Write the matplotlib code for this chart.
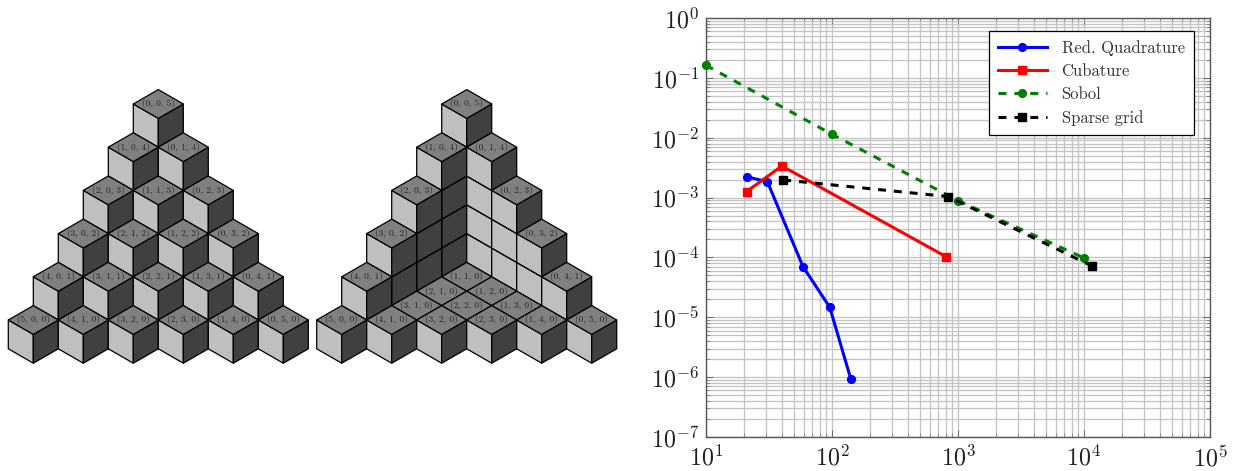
"""Sparse index sets as stacked cubes, plus an error-vs-points convergence plot."""

import matplotlib

matplotlib.use("Agg")
import matplotlib.pyplot as plt
from matplotlib.patches import Polygon
from matplotlib.ticker import LogLocator, NullFormatter

plt.rcParams["mathtext.fontset"] = "cm"
plt.rcParams["font.family"] = ["cmr10", "DejaVu Serif"]
plt.rcParams["axes.formatter.use_mathtext"] = True

# visible top cubes of each index set
TOPS_FULL = [
    (0, 0, 5),
    (1, 0, 4), (0, 1, 4),
    (2, 0, 3), (1, 1, 3), (0, 2, 3),
    (3, 0, 2), (2, 1, 2), (1, 2, 2), (0, 3, 2),
    (4, 0, 1), (3, 1, 1), (2, 2, 1), (1, 3, 1), (0, 4, 1),
    (5, 0, 0), (4, 1, 0), (3, 2, 0), (2, 3, 0), (1, 4, 0), (0, 5, 0),
]
TOPS_REDUCED = [
    (0, 0, 5),
    (1, 0, 4), (0, 1, 4),
    (2, 0, 3), (0, 2, 3),
    (3, 0, 2), (0, 3, 2),
    (4, 0, 1), (0, 4, 1),
    (1, 1, 0),
    (2, 1, 0), (1, 2, 0),
    (3, 1, 0), (2, 2, 0), (1, 3, 0),
    (5, 0, 0), (4, 1, 0), (3, 2, 0), (2, 3, 0), (1, 4, 0), (0, 5, 0),
]

quad_x = [21, 30.7, 58.9, 96, 141]
quad_y = [2.23e-3, 1.84e-3, 7.0e-5, 1.47e-5, 9.3e-7]
cub_x = [21, 40, 803]
cub_y = [1.26e-3, 3.37e-3, 1.03e-4]
sobol_x = [10, 100, 1000, 10000]
sobol_y = [0.162, 1.14e-2, 8.9e-4, 9.8e-5]
sparse_x = [41, 833, 11560]
sparse_y = [1.97e-3, 1.04e-3, 7.2e-5]
x_ticks = [1e1, 1e2, 1e3, 1e4, 1e5]
y_ticks = [1e-7, 1e-6, 1e-5, 1e-4, 1e-3, 1e-2, 1e-1, 1e0]

# isometric cube size, in pixels
DX, DY, H = 25.0, 14.4, 28.8
BASE_Y = 320.0
FACE_TOP, FACE_LEFT, FACE_RIGHT = "#808080", "#bfbfbf", "#404040"


def top_center(cx, a, b, c):
    return cx + (b - a) * DX, BASE_Y - H * c + DY * (a + b - 5)


def draw_cube(ax, cx, a, b, c):
    x, y = top_center(cx, a, b, c)
    faces = [
        (FACE_LEFT, [(x - DX, y), (x, y + DY), (x, y + DY + H), (x - DX, y + H)]),
        (FACE_RIGHT, [(x + DX, y), (x, y + DY), (x, y + DY + H), (x + DX, y + H)]),
        (FACE_TOP, [(x, y - DY), (x + DX, y), (x, y + DY), (x - DX, y)]),
    ]
    for color, pts in faces:
        ax.add_patch(Polygon(pts, closed=True, fc=color, ec="black", lw=0.9, joinstyle="round"))


def draw_stack(ax, cx, tops):
    cubes = [(a, b, k) for a, b, c in tops for k in range(c + 1)]
    # back to front, bottom to top
    for a, b, c in sorted(cubes, key=lambda t: (t[0] + t[1], t[2])):
        draw_cube(ax, cx, a, b, c)
    for a, b, c in tops:
        x, y = top_center(cx, a, b, c)
        ax.text(x, y, f"({a}, {b}, {c})", ha="center", va="center", fontsize=6.8, color="#262626")


fig = plt.figure(figsize=(12.36, 4.71), dpi=100)

canvas = fig.add_axes([0, 0, 1, 1])
canvas.set_xlim(0, 1236)
canvas.set_ylim(471, 0)
canvas.axis("off")
draw_stack(canvas, 158.3, TOPS_FULL)
draw_stack(canvas, 466.7, TOPS_REDUCED)

ax = fig.add_axes([706 / 1236, 1 - 437 / 471, 504 / 1236, 419 / 471])
line_kw = dict(lw=2.2, ms=5.6, clip_on=False, zorder=3)
dash = (0, (2.6, 2.6))
ax.plot(quad_x, quad_y, color="#0000ff", marker="o", label="Red. Quadrature", **line_kw)
ax.plot(cub_x, cub_y, color="#ff0000", marker="s", label="Cubature", **line_kw)
ax.plot(sobol_x, sobol_y, color="#008000", marker="o", ls=dash, label="Sobol", **line_kw)
ax.plot(sparse_x, sparse_y, color="black", marker="s", ls=dash, label="Sparse grid", **line_kw)

ax.set_xscale("log")
ax.set_yscale("log")
ax.set_xticks(x_ticks)
ax.set_yticks(y_ticks)
ax.set_xlim(1e1, 1e5)
ax.set_ylim(1e-7, 1e0)
ax.xaxis.set_minor_locator(LogLocator(base=10, subs=range(2, 10), numticks=10))
ax.yaxis.set_minor_locator(LogLocator(base=10, subs=range(2, 10), numticks=12))
ax.xaxis.set_minor_formatter(NullFormatter())
ax.yaxis.set_minor_formatter(NullFormatter())
ax.grid(True, which="both", color="#c4c4c4", lw=0.95)
ax.set_axisbelow(True)
ax.tick_params(which="major", direction="in", length=5, width=0.7, color="#666666",
               top=True, right=True, labelsize=17.3, labelcolor="#222222")
ax.tick_params(axis="x", which="major", pad=6)
ax.tick_params(axis="y", which="major", pad=5)
ax.tick_params(which="minor", direction="in", length=3, width=0.7, color="#888888",
               top=True, right=True)
for spine in ax.spines.values():
    spine.set_color("#555555")
    spine.set_linewidth(1.0)

legend = ax.legend(
    loc="upper right", bbox_to_anchor=(488 / 504, 406 / 419), fontsize=12, fancybox=False,
    framealpha=1, edgecolor="black", borderpad=0.56, labelspacing=0.46, handlelength=2.9,
    handletextpad=0.9, borderaxespad=0,
)
legend.get_frame().set_linewidth(0.9)
for text in legend.get_texts():
    text.set_color("#333333")

fig.savefig("out.png", dpi=100)
plt.close(fig)
